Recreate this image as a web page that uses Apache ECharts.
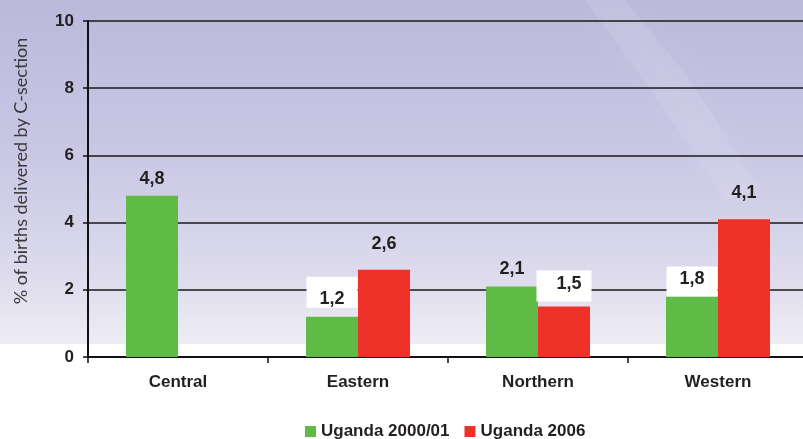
<!DOCTYPE html>
<html>
<head>
<meta charset="utf-8">
<script src="https://cdn.jsdelivr.net/npm/echarts@6/dist/echarts.min.js"></script>
<style>
  html, body { margin: 0; padding: 0; background: #fff; }
  #chart { width: 803px; height: 439px; }
</style>
</head>
<body>
<div id="chart"></div>
<script>
// data
var regions = ['Central', 'Eastern', 'Northern', 'Western'];
var seriesNames = ['Uganda 2000/01', 'Uganda 2006'];
var uganda2000 = [4.8, 1.2, 2.1, 1.8];
var uganda2006 = [null, 2.6, 1.5, 4.1];
var yTicks = [0, 2, 4, 6, 8, 10];

var GREEN = '#5fba46', RED = '#ee3129', INK = '#231f20';
var BOLD_FONT = 'Liberation Sans, Arial, sans-serif';

// white boxes behind some of the labels (series index -> data index -> label style)
var boxed = {
  0: { 1: { distance: 9, padding: [13, 13, 0, 13] }, 3: { distance: 0, padding: [4, 13, 8, 13] } },
  1: { 2: { distance: 5, padding: [4, 10, 9, 20] } }
};

function commaFmt(p) {
  return p.value == null ? '' : String(p.value).replace('.', ',');
}

function buildData(values, si, baseDistance) {
  return values.map(function (v, i) {
    var b = boxed[si] && boxed[si][i];
    var lbl = { distance: baseDistance };
    if (b) {
      lbl = { distance: b.distance, backgroundColor: '#ffffff', padding: b.padding };
    }
    return { value: v, label: lbl };
  });
}

var chart = echarts.init(document.getElementById('chart'), null, { renderer: 'canvas' });

var labelBase = {
  show: true,
  position: 'top',
  formatter: commaFmt,
  fontFamily: BOLD_FONT,
  fontSize: 18,
  fontWeight: 'bold',
  color: INK,
  lineHeight: 18
};

chart.setOption({
  animation: false,
  backgroundColor: '#ffffff',
  graphic: [
    {
      type: 'rect', z: -10, silent: true,
      shape: { x: 0, y: 0, width: 803, height: 344 },
      style: {
        fill: new echarts.graphic.LinearGradient(0, 0, 0, 1, [
          { offset: 0, color: '#bbb9da' },
          { offset: 0.45, color: '#c9c7e4' },
          { offset: 0.8, color: '#dddbec' },
          { offset: 1, color: '#eeedf5' }
        ])
      }
    },
    {
      type: 'polygon', z: -9, silent: true,
      shape: { points: [[585, 0], [625, 0], [690, 80], [760, 190], [725, 200], [655, 95]] },
      style: { fill: 'rgba(255,255,255,0.09)', shadowBlur: 30, shadowColor: 'rgba(255,255,255,0.35)' }
    }
  ],
  grid: { left: 88, top: 21, width: 720, height: 336, containLabel: false, outerBoundsMode: 'none' },
  legend: {
    left: 300, top: 418,
    icon: 'rect', itemWidth: 11, itemHeight: 11, itemGap: 15,
    textStyle: { fontFamily: BOLD_FONT, fontSize: 17, fontWeight: 'bold', color: INK },
    data: seriesNames
  },
  xAxis: {
    type: 'category',
    data: regions,
    axisLine: { lineStyle: { color: '#111', width: 2 } },
    axisTick: { show: true, length: 6, lineStyle: { color: '#111', width: 1.5 } },
    axisLabel: { margin: 17, fontFamily: BOLD_FONT, fontSize: 17, fontWeight: 'bold', color: INK }
  },
  yAxis: {
    type: 'value',
    min: yTicks[0], max: yTicks[yTicks.length - 1], interval: 2,
    name: '% of births delivered by C-section',
    nameLocation: 'middle', nameGap: 58,
    nameTextStyle: { fontFamily: 'Lato, Open Sans, sans-serif', fontSize: 18, color: '#3a3a3a', padding: [0, 0, 0, 36] },
    axisLine: { show: true, lineStyle: { color: '#111', width: 2 } },
    axisTick: { show: true, length: 5, lineStyle: { color: '#111', width: 1.5 } },
    axisLabel: { margin: 14, fontFamily: BOLD_FONT, fontSize: 17, fontWeight: 'bold', color: INK },
    splitLine: { show: true, lineStyle: { color: '#1a1a1a', width: 1.5 } }
  },
  series: [
    {
      name: seriesNames[0], type: 'bar', barWidth: 52, barGap: '0%',
      itemStyle: { color: GREEN },
      label: labelBase,
      data: buildData(uganda2000, 0, 8)
    },
    {
      name: seriesNames[1], type: 'bar', barWidth: 52, barGap: '0%',
      itemStyle: { color: RED },
      label: labelBase,
      data: buildData(uganda2006, 1, 17)
    }
  ]
});
</script>
</body>
</html>
